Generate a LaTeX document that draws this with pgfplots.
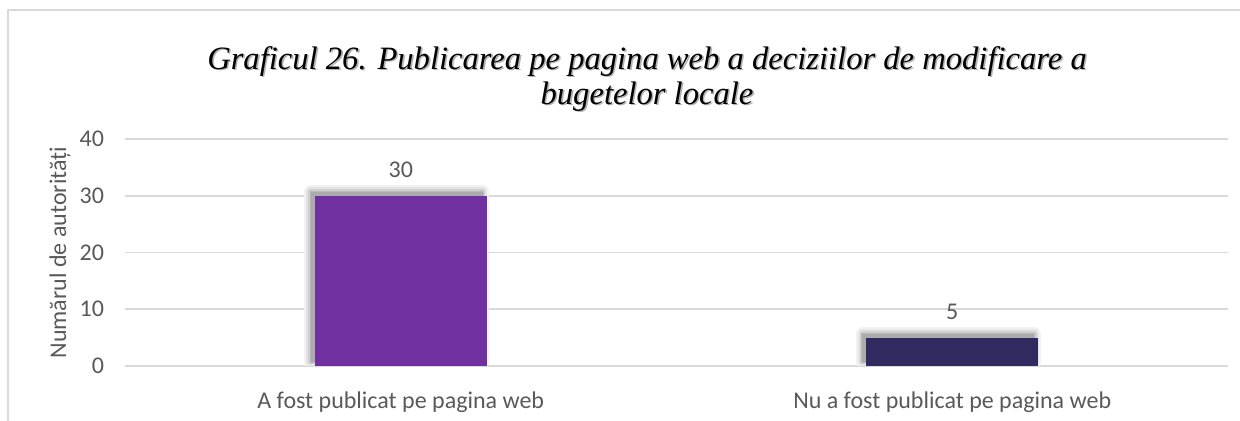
\documentclass[border=0pt]{standalone}
\usepackage{pgfplots}
\pgfplotsset{compat=1.18}
\usepackage{fontspec}
\setmainfont{Carlito}
\newfontfamily\titlefont{Liberation Serif}

\definecolor{barpurple}{HTML}{7030A0}
\definecolor{barnavy}{HTML}{302A60}
\definecolor{gridgray}{HTML}{D9D9D9}
\definecolor{textgray}{HTML}{595959}

% soft shadow up and to the left of each bar, built from opaque grey rings
\tikzset{softshadow/.style={
    preaction={draw=black!5, line width=6.5pt, line join=round, transform canvas={xshift=-2pt,yshift=2pt}},
    preaction={draw=black!11, line width=4.5pt, line join=round, transform canvas={xshift=-2pt,yshift=2pt}},
    preaction={draw=black!19, line width=2.5pt, line join=round, transform canvas={xshift=-2pt,yshift=2pt}},
    preaction={draw=black!27, line width=0.8pt, line join=round, transform canvas={xshift=-2pt,yshift=2pt}},
    preaction={fill=black!33, transform canvas={xshift=-2pt,yshift=2pt}}}}

\begin{document}
\begin{tikzpicture}[x=1pt,y=1pt]
    \path[use as bounding box] (0,0) rectangle (620,210.5);
    \draw[gridgray, line width=1pt] (4,0) -- (4,205.5) -- (620,205.5);

    % title, with a faint shadow under it
    \node[align=center, font=\titlefont\fontsize{16.3}{17.5}\selectfont\itshape, text=black!30]
        at (324.3,170.3) {Graficul 26. Publicarea pe pagina web a deciziilor de modificare a\\bugetelor locale};
    \node[align=center, font=\titlefont\fontsize{16.3}{17.5}\selectfont\itshape, text=black]
        at (323.5,171) {Graficul 26. Publicarea pe pagina web a deciziilor de modificare a\\bugetelor locale};

    \begin{axis}[
        at={(62.5pt,27.5pt)}, anchor=south west,
        scale only axis, width=551.5pt, height=113.5pt,
        ymin=0, ymax=40, ytick={0,10,20,30,40},
        xmin=-0.5, xmax=1.5, xtick={0,1},
        xticklabels={A fost publicat pe pagina web, Nu a fost publicat pe pagina web},
        axis line style={draw=none},
        tick style={draw=none},
        ymajorgrids, grid style={gridgray, line width=0.8pt},
        ticklabel style={font=\fontsize{12}{14}\selectfont, text=textgray},
        /pgf/number format/assume math mode=true,
        yticklabel style={anchor=east, xshift=-7pt},
        xticklabel style={anchor=center, yshift=-14pt},
        ylabel={Numărul de autorități},
        ylabel style={font=\fontsize{12}{14}\selectfont, text=textgray,
            at={(axis description cs:-0.0589,0.5)}, anchor=center},
        ybar, bar width=86pt, bar shift=0pt,
        nodes near coords,
        nodes near coords style={font=\fontsize{12}{14}\selectfont, text=textgray,
            anchor=center, yshift=13pt},
    ]
        \addplot[fill=barpurple, draw=none, softshadow] coordinates {(0,30)};
        \addplot[fill=barnavy, draw=none, softshadow] coordinates {(1,5)};
    \end{axis}
\end{tikzpicture}
\end{document}
